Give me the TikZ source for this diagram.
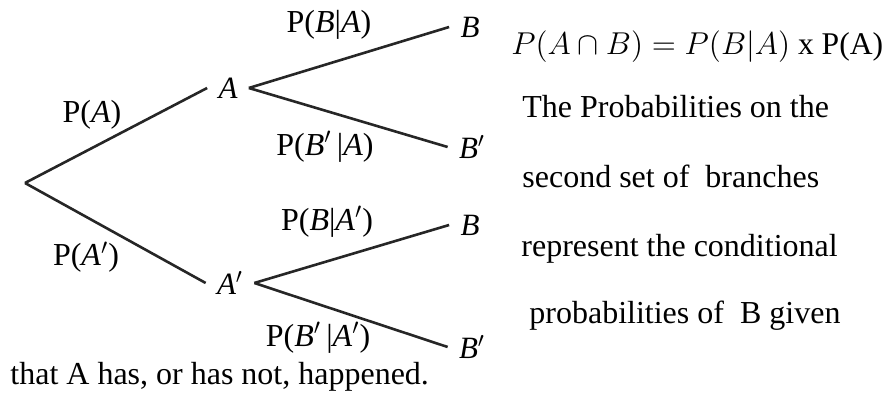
\RequirePackage{fix-cm}
\documentclass[tikz,border=0pt]{standalone}
\usepackage{fontspec}
\setmainfont{Liberation Serif}
\usetikzlibrary{positioning}

\begin{document}
\begin{tikzpicture}[x=0.5pt,y=-0.5pt,
  branch/.style={line width=1.3pt,color=black!85},
  outcome/.style={inner sep=5.5pt,font=\fontsize{15.5}{18}\selectfont\itshape},
  problabel/.style={inner sep=0pt,font=\fontsize{16}{19}\selectfont},
  note/.style={anchor=base west,inner sep=0pt,font=\fontsize{16}{19}\selectfont}]
  \useasboundingbox (0,0) rectangle (891,405);
  \coordinate (root) at (25,183);
  \node[outcome] (A) at (228,88) {A};
  \node[outcome] (Ac) at (230,283) {A$'$};
  \node[outcome] (AB) at (470,27) {B};
  \node[outcome] (ABc) at (472,147) {B$'$};
  \node[outcome] (AcB) at (470,225) {B};
  \node[outcome] (AcBc) at (472,347) {B$'$};
  \draw[branch] (root) -- (A.west); \draw[branch] (root) -- (Ac.west);
  \draw[branch] (A.east) -- (AB.west); \draw[branch] (A.east) -- (ABc.west);
  \draw[branch] (Ac.east) -- (AcB.west); \draw[branch] (Ac.east) -- (AcBc.west);
  \node[problabel] (pA) at (92,115) {P(\textit{A})};
  \node[problabel] (pAc) at (86,257) {P(\textit{A}$'$)};
  \node[problabel] (pBA) at (329,25) {P(\textit{B}|\textit{A})};
  \node[problabel] (pBcA) at (325,147) {P(\textit{B}$'$\,|\textit{A})};
  \node[problabel] (pBAc) at (327,222) {P(\textit{B}|\textit{A}$'$)};
  \node[problabel] (pBcAc) at (318,338) {P(\textit{B}$'$\,|\textit{A}$'$)};
  % text beside the tree
  \node[note,font=\fontsize{15.8}{19}\selectfont] (rule) at (511,55) {$P(A\cap B) = P(B|A)$ x P(A)};
  \node[note] (line1) at (522,118) {The Probabilities on the};
  \node[note] (line2) at (522,188) {second set of\ \ branches};
  \node[note] (line3) at (521,257) {represent the conditional};
  \node[note] (line4) at (529,324) {probabilities of\ \ B given};
  \node[note] (line5) at (10,385) {that A has, or has not, happened.};
\end{tikzpicture}
\end{document}
